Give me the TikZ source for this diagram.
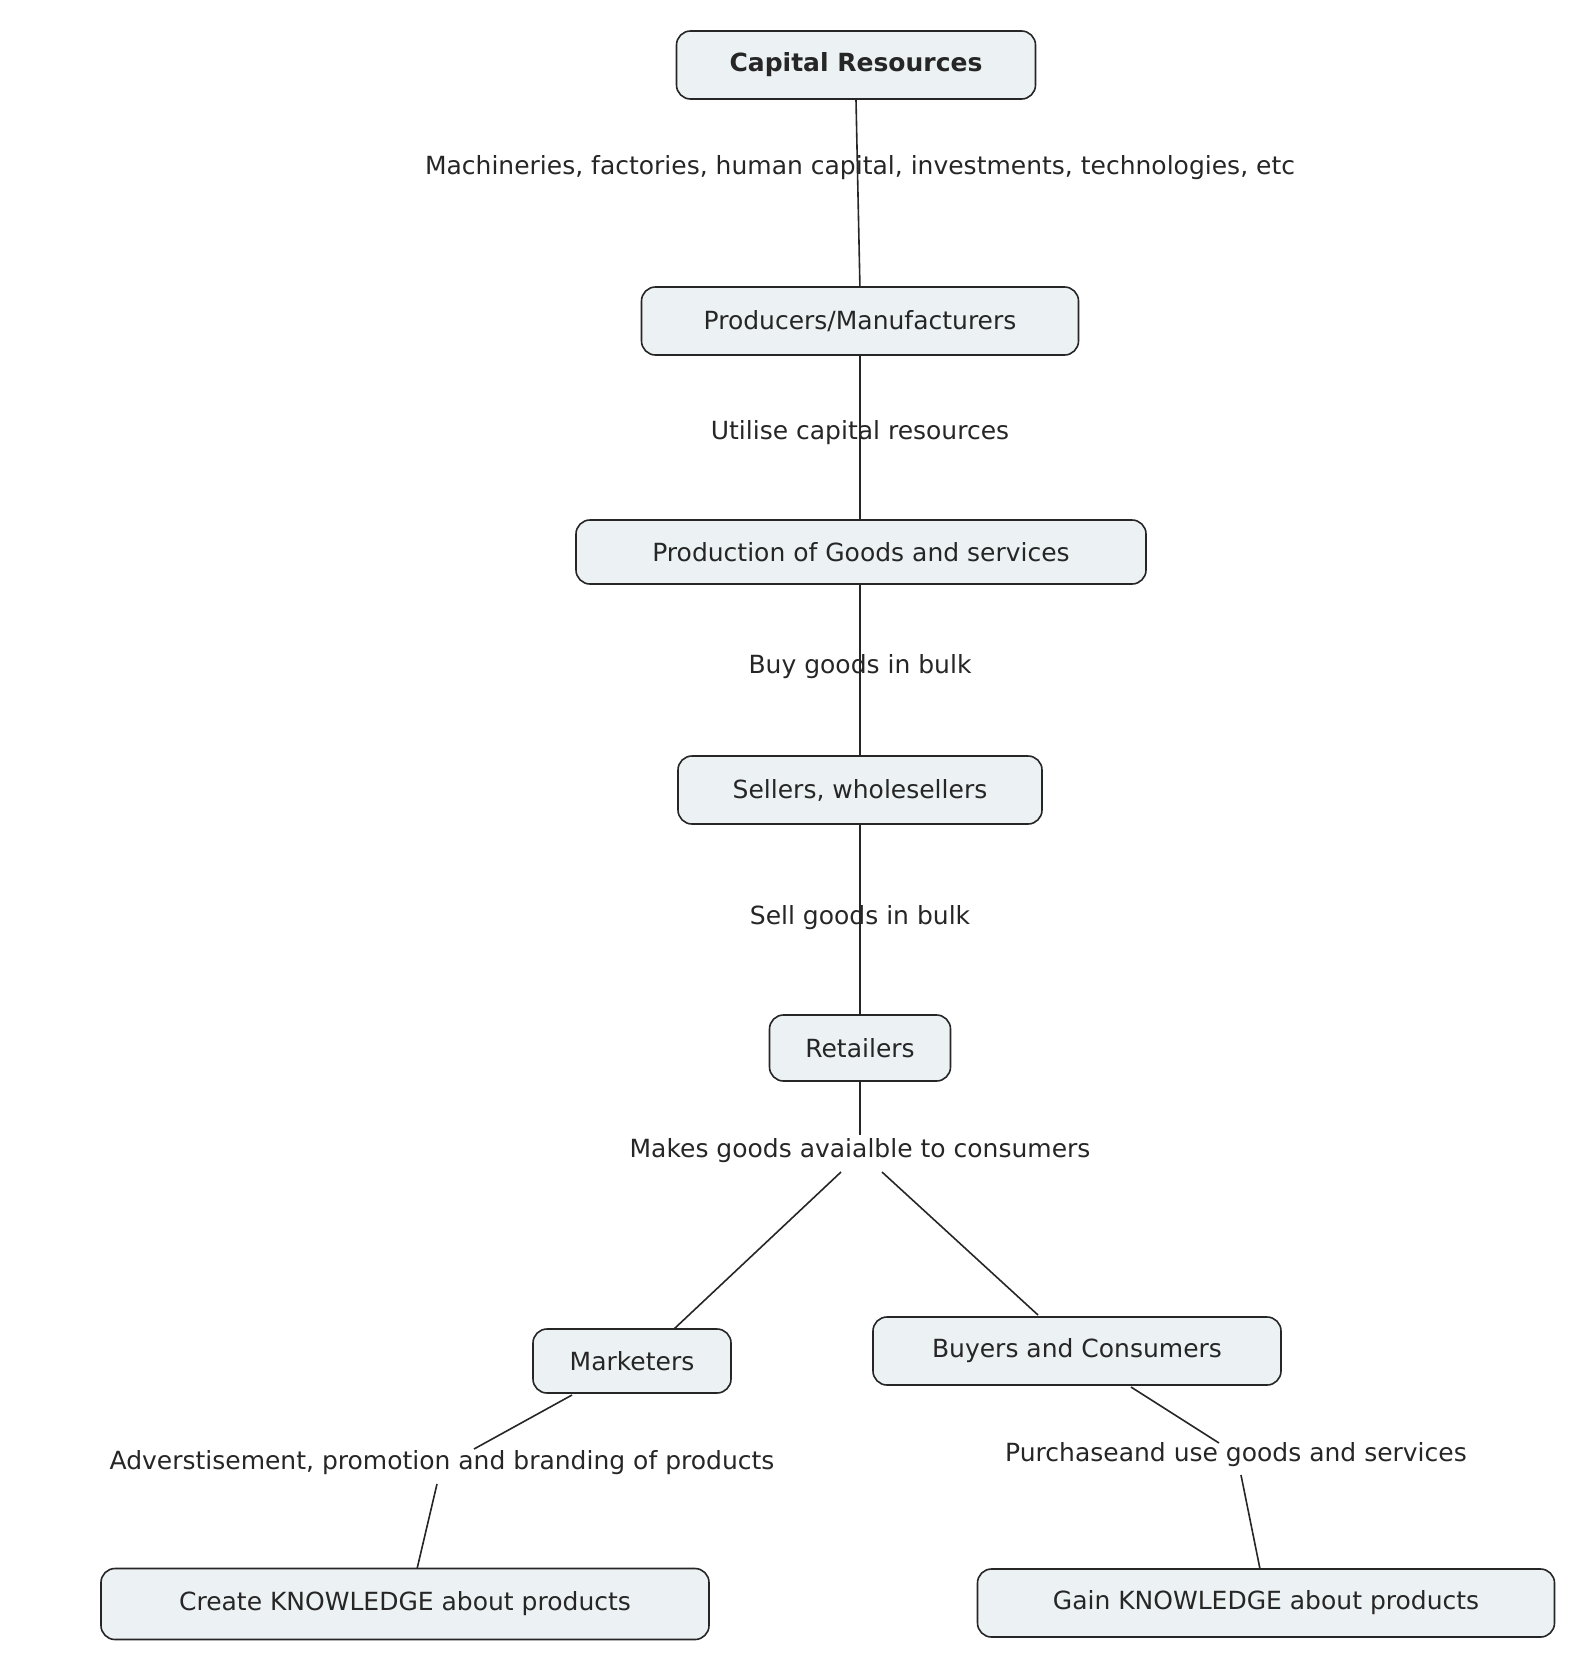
\documentclass[tikz,border=0pt]{standalone}
\usepackage{fontspec}
\setmainfont{DejaVu Sans}
\begin{document}
\begin{tikzpicture}[x=1pt,y=-1pt,
  box/.style={draw=black!85,line width=1.6pt,rounded corners=14pt,fill={rgb,255:red,236;green,241;blue,243},minimum height=68pt,inner xsep=0pt,font=\fontsize{25}{30}\selectfont,text=black!85},
  lbl/.style={font=\fontsize{25}{30}\selectfont,text=black!85,inner sep=2pt},
  con/.style={line width=1.6pt,black!85}]
\useasboundingbox (0,0) rectangle (1576,1671);
\node[lbl] (l1) at (860,168) {Machineries, factories, human capital, investments, technologies, etc};
\node[lbl] (l2) at (860,433) {Utilise capital resources};
\node[lbl] (l3) at (860,667) {Buy goods in bulk};
\node[lbl] (l4) at (860,918) {Sell goods in bulk};
\node[lbl] (l5) at (860,1151) {Makes goods avaialble to consumers};
\node[lbl] (l6) at (442,1463) {Adverstisement, promotion and branding of products};
\node[lbl] (l7) at (1236,1455) {Purchaseand use goods and services};
\coordinate (a1) at (841,1172); \coordinate (a2) at (882,1172);
\coordinate (b1) at (474,1449); \coordinate (b2) at (437,1484);
\coordinate (c1) at (1219,1443); \coordinate (c2) at (1241,1475);
\draw[con] (856,100) -- (860,290);
\draw[con] (860,350) -- (860,520);
\draw[con] (860,580) -- (860,760);
\draw[con] (860,820) -- (860,1017);
\draw[con] (860,1080) -- (860,1135);
\coordinate (mt) at (674,1329); \coordinate (bt) at (1038,1315);
\coordinate (mb) at (572,1395); \coordinate (bb) at (1131,1387);
\coordinate (ct) at (417,1569); \coordinate (gt) at (1260,1569);
\draw[con] (a1) -- (mt); \draw[con] (a2) -- (bt);
\draw[con] (mb) -- (b1); \draw[con] (b2) -- (ct);
\draw[con] (bb) -- (c1); \draw[con] (c2) -- (gt);
\node[box,minimum width=359pt,font=\fontsize{25}{30}\selectfont\bfseries] (cr) at (856,65) {Capital Resources};
\node[box,minimum width=437pt] (pm) at (860,321) {Producers/Manufacturers};
\node[box,minimum width=570pt,minimum height=64pt] (pg) at (861,552) {Production of Goods and services};
\node[box,minimum width=364pt] (sw) at (860,790) {Sellers, wholesellers};
\node[box,minimum width=181pt,minimum height=66pt] (rt) at (860,1048) {Retailers};
\node[box,minimum width=198pt,minimum height=64pt] (mk) at (632,1361) {Marketers};
\node[box,minimum width=408pt] (bc) at (1077,1351) {Buyers and Consumers};
\node[box,minimum width=608pt,minimum height=71pt] (ck) at (405,1604) {Create KNOWLEDGE about products};
\node[box,minimum width=577pt] (gk) at (1266,1603) {Gain KNOWLEDGE about products};
\end{tikzpicture}
\end{document}
